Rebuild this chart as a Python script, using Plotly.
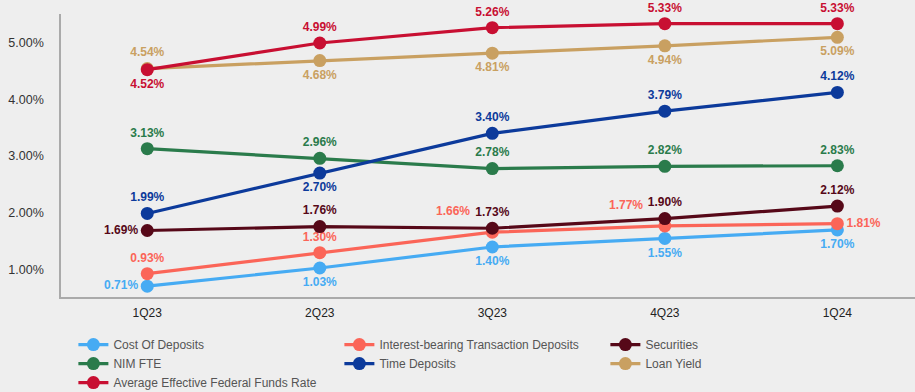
import plotly.graph_objects as go

quarters = ["1Q23", "2Q23", "3Q23", "4Q23", "1Q24"]

cost_of_deposits = [0.71, 1.03, 1.40, 1.55, 1.70]
interest_bearing = [0.93, 1.30, 1.66, 1.77, 1.81]
securities = [1.69, 1.76, 1.73, 1.90, 2.12]
nim_fte = [3.13, 2.96, 2.78, 2.82, 2.83]
time_deposits = [1.99, 2.70, 3.40, 3.79, 4.12]
loan_yield = [4.54, 4.68, 4.81, 4.94, 5.09]
fed_funds = [4.52, 4.99, 5.26, 5.33, 5.33]

y_ticks = [1.0, 2.0, 3.0, 4.0, 5.0]

# "upper left" labels are placed as offset annotations so they clear the
# neighbouring Securities labels; everything else uses scatter text.
series = [
    ("Cost Of Deposits", cost_of_deposits, "#46abf3",
     ["middle left", "bottom center", "bottom center", "bottom center", "bottom center"]),
    ("Interest-bearing Transaction Deposits", interest_bearing, "#fb6558",
     ["top center", "top center", "upper left", "upper left", "middle right"]),
    ("Securities", securities, "#560818",
     ["middle left", "top center", "top center", "top center", "top center"]),
    ("NIM FTE", nim_fte, "#2a7b4b",
     ["top center"] * 5),
    ("Time Deposits", time_deposits, "#0c3a9b",
     ["top center", "bottom center", "top center", "top center", "top center"]),
    ("Loan Yield", loan_yield, "#c9a061",
     ["top center", "bottom center", "bottom center", "bottom center", "bottom center"]),
    ("Average Effective Federal Funds Rate", fed_funds, "#c80f32",
     ["bottom center", "top center", "top center", "top center", "top center"]),
]

label_font = dict(family="Liberation Sans", size=12)

fig = go.Figure()
for name, vals, color, pos in series:
    texts = [("" if p == "upper left" else f"{v:.2f}%") for v, p in zip(vals, pos)]
    fig.add_trace(go.Scatter(
        x=quarters, y=vals, name=name,
        mode="lines+markers+text",
        line=dict(color=color, width=3.2),
        marker=dict(color=color, size=13),
        text=texts,
        textposition=[("top left" if p == "upper left" else p) for p in pos],
        textfont=dict(**label_font, color=color, weight="bold"),
        cliponaxis=False,
        hoverinfo="skip",
    ))
    for q, v, p in zip(quarters, vals, pos):
        if p == "upper left":
            fig.add_annotation(
                x=q, y=v, text=f"<b>{v:.2f}%</b>", showarrow=False,
                xanchor="right", yanchor="middle", xshift=-20, yshift=21,
                font=dict(**label_font, color=color),
            )

fig.update_layout(
    width=915, height=392,
    margin=dict(l=61, r=0, t=14, b=95, autoexpand=False),
    paper_bgcolor="#eeeeee",
    plot_bgcolor="#eeeeee",
    font=dict(family="Liberation Sans", size=12, color="#333333"),
    showlegend=True,
    legend=dict(
        orientation="h",
        x=0.0145, xanchor="left",
        yref="container", y=0.158, yanchor="top",
        entrywidth=221, entrywidthmode="pixels",
        font=dict(family="Liberation Sans", size=12, color="#555555"),
        traceorder="normal",
        bgcolor="rgba(0,0,0,0)",
        tracegroupgap=0,
    ),
    xaxis=dict(
        type="category",
        range=[-0.5, 4.45],
        showgrid=False, zeroline=False,
        showline=True, linecolor="#aaaaaa", linewidth=1.5,
        ticks="", ticklabelstandoff=4,
        tickfont=dict(size=12, color="#222222"),
    ),
    yaxis=dict(
        range=[0.52, 5.5],
        tickvals=y_ticks,
        ticktext=[f"{t:.2f}%" for t in y_ticks],
        showgrid=False, zeroline=False,
        showline=True, linecolor="#aaaaaa", linewidth=1.5,
        ticks="", ticklabelstandoff=13,
        tickfont=dict(size=12.5, color="#333333"),
    ),
)

fig.write_html("out.html")
